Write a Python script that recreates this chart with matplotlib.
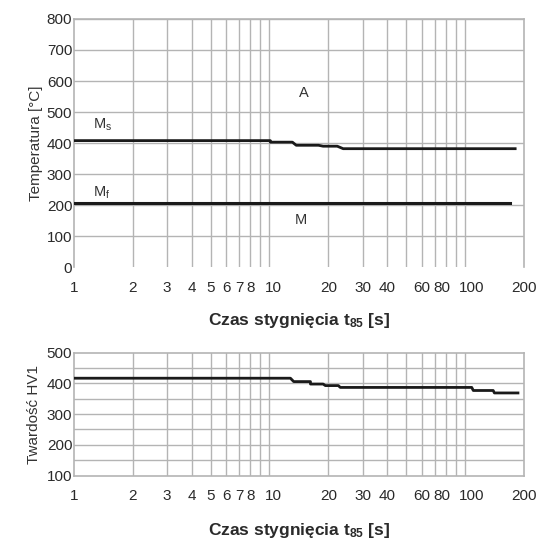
import matplotlib
matplotlib.use("Agg")
import matplotlib.pyplot as plt
from matplotlib.ticker import FixedLocator, NullFormatter, NullLocator

plt.rcParams['font.family'] = ['Liberation Sans', 'DejaVu Sans']
plt.rcParams['mathtext.fontset'] = 'custom'
plt.rcParams['mathtext.rm'] = 'Liberation Sans'
plt.rcParams['mathtext.it'] = 'Liberation Sans'
plt.rcParams['mathtext.bf'] = 'Liberation Sans:bold'
plt.rcParams['mathtext.default'] = 'regular'

# ---- data ----
x_tick_vals = [1, 2, 3, 4, 5, 6, 7, 8, 10, 20, 30, 40, 60, 80, 100, 200]
x_tick_labels = ['1', '2', '3', '4', '5', '6', '7', '8', '10', '20', '30', '40', '60', '80', '100', '200']
x_grid_vals = [2, 3, 4, 5, 6, 7, 8, 9, 10, 20, 30, 40, 50, 60, 70, 80, 90, 100]

ms_t = [1, 10.1, 10.1, 13.1, 13.7, 17.8, 18.8, 22.2, 23.8, 180]
ms_temp = [408, 408, 403, 403, 393, 393, 390, 390, 382, 382]

mf_t = [1, 170]
mf_temp = [207, 207]

hv_t = [1, 12.8, 13.3, 16.2, 16.2, 18.8, 19.3, 22.5, 23, 108, 110, 139, 141, 186]
hv = [417, 417, 406, 406, 398, 398, 393, 393, 387, 387, 377, 377, 369, 369]

temp_ticks = [0, 100, 200, 300, 400, 500, 600, 700, 800]
hv_ticks = [100, 200, 300, 400, 500]
hv_grid = [150, 200, 250, 300, 350, 400, 450]

# small horizontal nudges (points) of some tick labels, as in the reference
label_nudge = {'10': 3, '80': -3, '100': 4.5}

grid_c = '#b4b4b4'
txt_c = '#2a2a2a'
fig = plt.figure(figsize=(5.42, 5.41), dpi=100)

L, R = 0.136, 0.967
ax1 = fig.add_axes([L, 0.506, R - L, 0.965 - 0.506])
ax2 = fig.add_axes([L, 0.121, R - L, 0.348 - 0.121])

def style_x(ax):
    ax.set_xscale('log')
    ax.set_xlim(1, 200)
    ax.xaxis.set_major_locator(NullLocator())
    ax.xaxis.set_minor_locator(NullLocator())
    ax.xaxis.set_minor_formatter(NullFormatter())
    for v in x_grid_vals:
        ax.axvline(v, color=grid_c, lw=1.0, zorder=1)
    for v, t in zip(x_tick_vals, x_tick_labels):
        ax.annotate(t, xy=(v, 0), xycoords=('data', 'axes fraction'),
                    xytext=(label_nudge.get(t, 0), -10), textcoords='offset points',
                    ha='center', va='top', fontsize=11, color=txt_c,
                    annotation_clip=False)
    ax.tick_params(axis='both', length=0, labelsize=11, colors=txt_c)
    for s in ax.spines.values():
        s.set_color(grid_c)
        s.set_linewidth(1.2)

# ---- top chart ----
style_x(ax1)
ax1.set_ylim(0, 800)
ax1.set_yticks(temp_ticks)
for v in temp_ticks[1:]:
    ax1.axhline(v, color=grid_c, lw=1.0, zorder=1)
ax1.spines['bottom'].set_visible(False)
ax1.tick_params(axis='y', pad=1)
ax1.plot(ms_t, ms_temp, color='#1a1a1a', lw=2.0, zorder=3)
ax1.plot(mf_t, mf_temp, color='#1a1a1a', lw=2.2, zorder=3)
ax1.text(1.25, 458, r'M$_s$', fontsize=10.5, color='#333333', ha='left', va='center')
ax1.text(1.25, 240, r'M$_f$', fontsize=10.5, color='#333333', ha='left', va='center')
ax1.text(15, 560, 'A', fontsize=10.5, color='#333333', ha='center', va='center')
ax1.text(14.5, 152, 'M', fontsize=10.5, color='#333333', ha='center', va='center')
ax1.set_ylabel('Temperatura [°C]', fontsize=11, color='#333333', labelpad=3)
ax1.text(0.5, -0.215, r'Czas stygnięcia t$\mathbf{_{85}}$ [s]', transform=ax1.transAxes,
         fontsize=12.5, fontweight='bold', color=txt_c, ha='center', va='center')

# ---- bottom chart ----
style_x(ax2)
ax2.set_ylim(100, 500)
ax2.set_yticks(hv_ticks)
for v in hv_grid:
    ax2.axhline(v, color=grid_c, lw=1.0, zorder=1)
ax2.tick_params(axis='y', pad=1)
ax2.plot(hv_t, hv, color='#1a1a1a', lw=2.0, zorder=3)
ax2.set_ylabel('Twardość HV1', fontsize=11, color='#333333', labelpad=4)
ax2.text(0.5, -0.445, r'Czas stygnięcia t$\mathbf{_{85}}$ [s]', transform=ax2.transAxes,
         fontsize=12.5, fontweight='bold', color=txt_c, ha='center', va='center')

fig.savefig('out.png', dpi=100)
